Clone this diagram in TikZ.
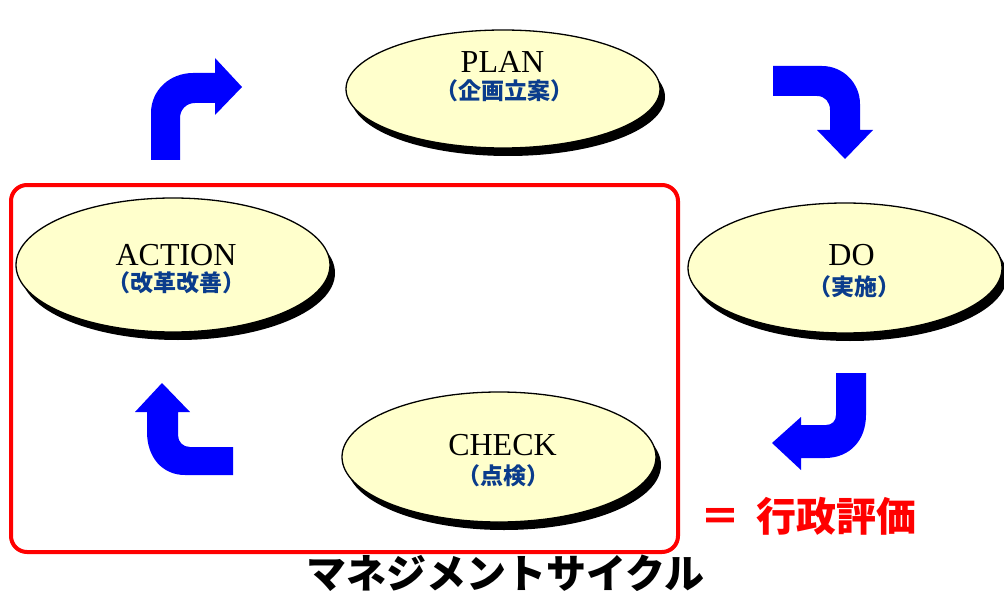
\documentclass[tikz,border=0pt]{standalone}
\usepackage{fontspec}
\setmainfont{Liberation Serif}
\newfontfamily\jpfont{Noto Sans CJK JP}
\usetikzlibrary{shapes.geometric,shadows}
\definecolor{ellfill}{RGB}{255,255,204}
\definecolor{jpblue}{RGB}{10,60,140}
\definecolor{arrowblue}{RGB}{0,0,255}
\definecolor{framered}{RGB}{255,0,0}
\tikzset{
  stage/.style={ellipse, draw=black, line width=1.3pt, fill=ellfill, inner sep=0pt,
    minimum width=314pt,
    general shadow={fill=black, shadow xshift=5pt, shadow yshift=-8pt}},
  entxt/.style={anchor=base, inner sep=0pt, font=\fontsize{32}{32}\selectfont, text=black},
  jptxt/.style={anchor=base, inner sep=0pt, font=\jpfont\bfseries\fontsize{23}{23}\selectfont, text=jpblue},
  bigarrow/.style={fill=arrowblue, draw=none},
  redframe/.style={draw=framered, line width=4pt, rounded corners=16pt, inner sep=0pt}
}
\begin{document}
\begin{tikzpicture}[x=1pt,y=-1pt]
\useasboundingbox (0,0) rectangle (1004,591);
\fill[white] (0,0) rectangle (1004,591);

% red frame
\node[redframe, minimum width=667pt, minimum height=367pt] (frame) at (344.5,368.5) {};

% ellipses
\node[stage, minimum height=118pt] (plan) at (503,89) {};
\node[stage, minimum height=130pt] (do) at (845,268) {};
\node[stage, minimum height=130pt] (check) at (499,457) {};
\node[stage, minimum height=134pt] (action) at (173,265) {};

% labels
\node[entxt] (planen) at (502.5,73) {PLAN};
\node[jptxt] (planjp) at (504,100) {（企画立案）};
\node[entxt] (doen) at (851.5,265) {DO};
\node[jptxt] (dojp) at (854,295) {（実施）};
\node[entxt] (checken) at (502.5,455) {CHECK};
\node[jptxt] (checkjp) at (503.5,484) {（点検）};
\node[entxt] (actionen) at (176,265) {ACTION};
\node[jptxt] (actionjp) at (176.5,291) {（改革改善）};

% arrows
\fill[bigarrow] (151,160) -- (151,113) .. controls (151,90) and (170,73) .. (193,73)
  -- (215,73) -- (215,58) -- (242,87) -- (215,115) -- (215,103) -- (195,103)
  .. controls (186,103) and (180,110) .. (180,118) -- (180,160) -- cycle;
\fill[bigarrow] (773,66) -- (822,66) .. controls (843,66) and (860,83) .. (860,104)
  -- (860,130) -- (873,130) -- (845,159) -- (817,130) -- (830,130) -- (830,110)
  .. controls (830,102) and (825,96) .. (817,96) -- (773,96) -- cycle;
\fill[bigarrow] (836,373) -- (866,373) -- (866,415) .. controls (866,440) and (850,458) .. (825,458)
  -- (801,458) -- (801,470) -- (772,443) -- (801,417) -- (801,425) -- (826,425)
  .. controls (832,425) and (836,421) .. (836,415) -- cycle;
\fill[bigarrow] (233,447) -- (190,447) .. controls (183,447) and (178,442) .. (178,435)
  -- (178,412) -- (190,412) -- (162,383) -- (135,412) -- (147,412) -- (147,432)
  .. controls (147,457) and (162,475) .. (185,475) -- (233,475) -- cycle;

% captions
\node[anchor=base west, inner sep=0pt, text=framered, font=\jpfont\bfseries\fontsize{40}{40}\selectfont] (eval) at (700,531) {＝\hspace{16pt}行政評価};
\node[anchor=base, inner sep=0pt, text=black, font=\jpfont\bfseries\fontsize{40}{40}\selectfont] (cycle) at (505,588) {マネジメントサイクル};
\end{tikzpicture}
\end{document}
